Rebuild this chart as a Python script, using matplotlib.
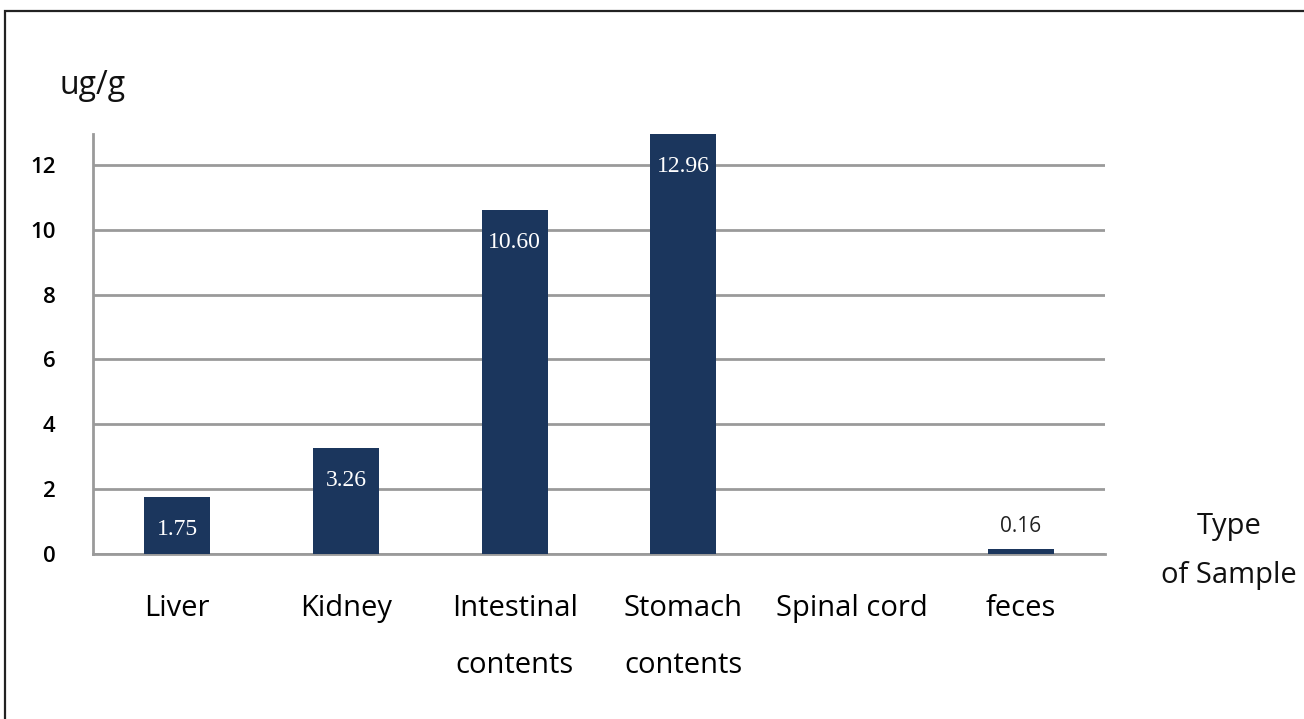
import matplotlib
matplotlib.use('Agg')
import matplotlib.pyplot as plt
import numpy as np

# data
categories = ['Liver', 'Kidney', 'Intestinal\ncontents', 'Stomach\ncontents', 'Spinal cord', 'feces']
values = [1.75, 3.26, 10.60, 12.96, np.nan, 0.16]
value_labels = ['1.75', '3.26', '10.60', '12.96', '', '0.16']
y_ticks = [0, 2, 4, 6, 8, 10, 12]

bar_color = '#1b365d'
grid_color = '#9a9a9a'
sans = ['Open Sans', 'DejaVu Sans']

fig = plt.figure(figsize=(13.04, 7.19), dpi=100)
W, H = 1304, 719

# outer frame (top and left edges visible in the reference)
frame = plt.Rectangle((4.5 / W, -0.1), 1.2, 1 - 11 / H + 0.1, transform=fig.transFigure,
                      fill=False, edgecolor='#222222', linewidth=1.6)
fig.patches.append(frame)

ax = fig.add_axes([93 / W, (H - 554) / H, (1105 - 93) / W, 420 / H])

x = np.arange(len(categories))
ax.bar(x, values, width=0.39, color=bar_color, zorder=3)

ax.set_xlim(-0.5, len(categories) - 0.5)
ax.set_ylim(0, 12.955)
ax.set_yticks(y_ticks)
ax.set_yticklabels([str(t) for t in y_ticks], family=sans, fontsize=16, fontweight='semibold')
ax.set_xticks(x)
ax.set_xticklabels(categories, family=sans, fontsize=21, linespacing=2.25, va='top')
ax.tick_params(axis='both', length=0)
ax.tick_params(axis='y', pad=27)
ax.tick_params(axis='x', pad=29)

ax.grid(axis='y', color=grid_color, linewidth=2, zorder=0)
for side in ['top', 'right']:
    ax.spines[side].set_visible(False)
for side in ['left', 'bottom']:
    ax.spines[side].set_color(grid_color)
    ax.spines[side].set_linewidth(2)

# value labels: inside the bar top, or above for tiny bars
for xi, v, lab in zip(x, values, value_labels):
    if not lab:
        continue
    if v > 1:
        ax.annotate(lab, (xi, v), xytext=(0, -23.5), textcoords='offset points',
                    ha='center', va='center', color='white', fontsize=17,
                    family=['Liberation Serif', 'DejaVu Serif'], zorder=4)
    else:
        ax.annotate(lab, (xi, v), xytext=(0, 16), textcoords='offset points',
                    ha='center', va='center', color='#222222', fontsize=15,
                    family=sans, zorder=4)

fig.text(60 / W, 1 - 85 / H, 'ug/g', family=sans, fontsize=23, ha='left', va='center', color='#111111')
fig.text(1229 / W, 1 - 551 / H, 'Type\nof Sample', family=sans, fontsize=21,
         ha='center', va='center', linespacing=1.95, color='#111111')

fig.savefig('out.png', dpi=100)
plt.close(fig)
